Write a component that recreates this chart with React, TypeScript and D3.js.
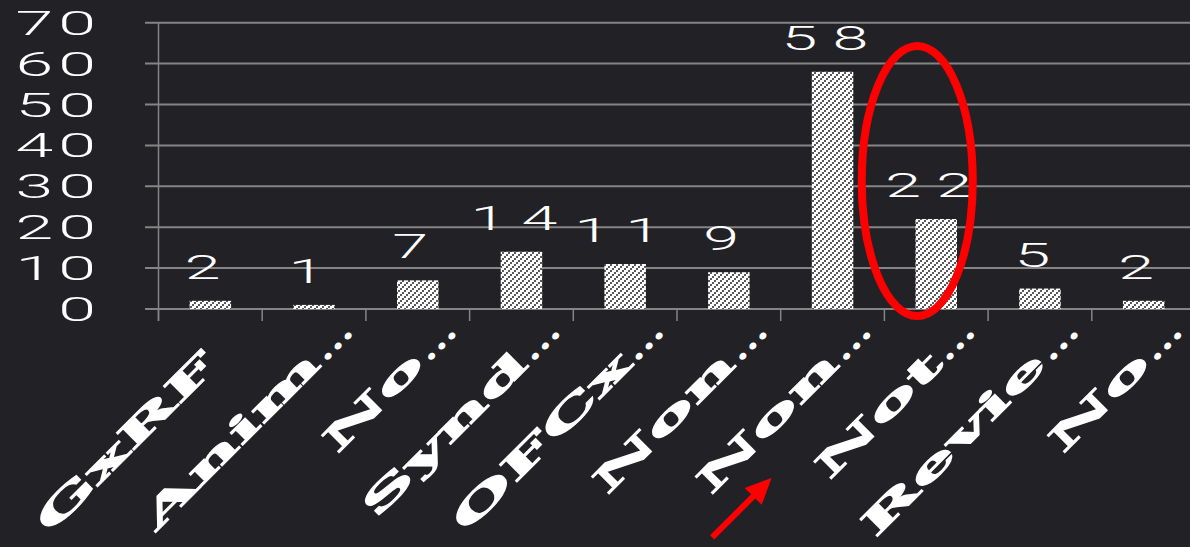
import React from "react";
import * as d3 from "d3";

const categories = ["GxRF", "Anim...", "No...", "Synd...", "OFCx...", "Non...", "Non...", "Not...", "Revie...", "No..."];
const values = [2, 1, 7, 14, 11, 9, 58, 22, 5, 2];
const yTicks = [0, 10, 20, 30, 40, 50, 60, 70];

const W = 1190;
const H = 547;
const X0 = 158.5;
const STEP = 103.7;
const Y0 = 309;
const YTOP = 22.7;

export default function App() {
  const idx = categories.map((_, i) => String(i));
  const x = d3
    .scaleBand<string>()
    .domain(idx)
    .range([X0, X0 + STEP * categories.length])
    .paddingInner(0.6)
    .paddingOuter(0.3);
  const y = d3.scaleLinear().domain([0, 70]).range([Y0, YTOP]);
  const step = x.step();
  const boundaries = d3.range(categories.length + 1).map((i) => X0 + i * step);

  const numFont = "Roboto, 'Liberation Sans', sans-serif";
  const labFont = "'DejaVu Serif', serif";

  const notC = (x("7") as number) + x.bandwidth() / 2;
  const nonC = (x("6") as number) + x.bandwidth() / 2;

  return (
    <svg
      width={W}
      height={H}
      style={{ position: "fixed", left: 0, top: 0, display: "block" }}
    >
      <defs>
        <pattern id="dots" width="6" height="6" patternUnits="userSpaceOnUse">
          <rect width="6" height="6" fill="#ffffff" />
          <rect x="0" y="4" width="2" height="2" fill="#5a5a5a" />
          <rect x="2" y="2" width="2" height="2" fill="#5a5a5a" />
          <rect x="4" y="0" width="2" height="2" fill="#5a5a5a" />
        </pattern>
      </defs>
      <rect width={W} height={H} fill="#222226" />

      {yTicks.map((t) => (
        <line
          key={"g" + t}
          x1={145}
          x2={W}
          y1={y(t)}
          y2={y(t)}
          stroke="#858585"
          strokeWidth={2}
        />
      ))}
      <line x1={X0} x2={X0} y1={YTOP} y2={Y0 + 12} stroke="#858585" strokeWidth={1.5} />
      {boundaries.map((b, i) => (
        <line key={"t" + i} x1={b} x2={b} y1={Y0} y2={Y0 + 12} stroke="#858585" strokeWidth={1.5} />
      ))}

      {yTicks.map((t) => (
        <text
          key={"y" + t}
          transform={`translate(101,${y(t) + 12}) scale(2,1)`}
          textAnchor="end"
          fontFamily={numFont}
          fontWeight={300}
          fontSize={34}
          fill="#ffffff"
          letterSpacing={2.5}
        >
          {String(t)}
        </text>
      ))}

      {values.map((v, i) => (
        <rect
          key={"b" + i}
          x={x(String(i))}
          y={y(v)}
          width={x.bandwidth()}
          height={y(0) - y(v)}
          fill="url(#dots)"
        />
      ))}

      {values.map((v, i) => {
        const cx = (x(String(i)) as number) + x.bandwidth() / 2;
        return (
          <text
            key={"v" + i}
            transform={`translate(${cx},${y(v) - 22}) scale(1.9,1)`}
            textAnchor="middle"
            fontFamily={numFont}
            fontWeight={300}
            fontSize={34}
            fill="#ffffff"
            letterSpacing={8}
          >
            {String(v)}
          </text>
        );
      })}

      {categories.map((c, i) => {
        const cx = (x(String(i)) as number) + x.bandwidth() / 2;
        const trunc = c.endsWith("...");
        const body = trunc ? c.slice(0, -3) : c;
        const dotsW = 46;
        const shift = trunc ? -dotsW : -46;
        return (
          <g key={"c" + i} transform={`translate(${cx + 41},333) rotate(-45)`}>
            {trunc && (
              <text
                transform="scale(1.2,1)"
                textAnchor="end"
                fontFamily={labFont}
                fontWeight="bold"
                fontSize={34}
                fill="#ffffff"
              >
                ...
              </text>
            )}
            <text
              transform={`translate(${shift},0) scale(2.35,1)`}
              textAnchor="end"
              fontFamily={labFont}
              fontWeight="bold"
              fontSize={34}
              fill="#ffffff"
              stroke="#ffffff"
              strokeWidth={1}
            >
              {body}
            </text>
          </g>
        );
      })}

      <ellipse
        cx={notC - 19}
        cy={181}
        rx={55.5}
        ry={135}
        fill="none"
        stroke="#ff0000"
        strokeWidth={8}
      />
      <g transform={`translate(${nonC - 61},478) rotate(-45)`}>
        <line x1={-84} y1={0} x2={-22} y2={0} stroke="#ff0000" strokeWidth={6} />
        <path d="M0,0 L-26,-12 L-26,12 Z" fill="#ff0000" />
      </g>
    </svg>
  );
}
